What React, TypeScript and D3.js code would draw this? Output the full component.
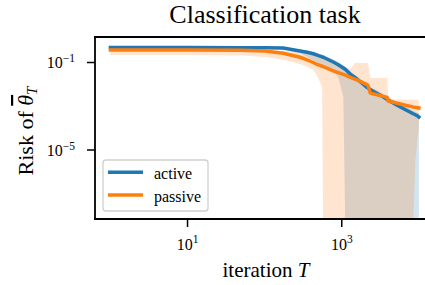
import React from "react";
import * as d3 from "d3";

// iteration grid (x)
const iterations = [1, 10, 50, 100, 174, 288, 355, 427, 479, 556, 575, 776, 900, 1047, 1117, 1288, 1480, 1738, 2089, 2188, 2344, 2455, 3467, 3890, 4000, 5754, 8318, 9000, 9772, 10000];

// active: mean risk and band
const activeMean = [0.479, 0.479, 0.473, 0.468, 0.457, 0.339, 0.295, 0.251, 0.219, 0.182, 0.174, 0.105, 0.0794, 0.0562, 0.0479, 0.0295, 0.0209, 0.0132, 0.00759, 0.00676, 0.00575, 0.00525, 0.00263, 0.00204, 0.00191, 0.000933, 0.000468, 0.000407, 0.000347, 0.000324];
const activeHigh = [0.501, 0.501, 0.501, 0.495, 0.49, 0.398, 0.355, 0.309, 0.275, 0.234, 0.224, 0.138, 0.105, 0.0759, 0.0646, 0.0398, 0.0282, 0.0178, 0.0105, 0.00933, 0.00794, 0.00724, 0.00363, 0.00282, 0.00263, 0.00132, 0.000661, 0.000575, 0.00049, 0.000457];
const activeLow = [0.457, 0.457, 0.452, 0.442, 0.427, 0.269, 0.178, 0.126, 0.1, 0.0708, 0.0631, 0.0355, 0.0219, 0.00263, 0, 0, 0, 0, 0, 0, 0, 0, 0, 0, 0, 0, 0, 0, 0, 0];

// passive: mean risk and band
const passiveMean = [0.372, 0.372, 0.363, 0.339, 0.263, 0.174, 0.132, 0.1, 0.0813, 0.0676, 0.0646, 0.0417, 0.0347, 0.0288, 0.0263, 0.0209, 0.0174, 0.0138, 0.01, 0.00891, 0.00407, 0.0038, 0.00282, 0.00251, 0.00174, 0.00126, 0.000933, 0.000891, 0.000851, 0.000832];
const passiveHigh = [0.417, 0.417, 0.407, 0.38, 0.331, 0.316, 0.282, 0.24, 0.209, 0.178, 0.17, 0.112, 0.0891, 0.0708, 0.0631, 0.0501, 0.0955, 0.0955, 0.0955, 0.0955, 0.0195, 0.0195, 0.0195, 0.0195, 0.00204, 0.00204, 0.00204, 0.00204, 0.00191, 0.00141];
const passiveLow = [0.219, 0.219, 0.209, 0.178, 0.132, 0.0851, 0.0631, 0.0457, 0.0251, 0.00759, 0, 0, 0, 0, 0, 0, 0, 0, 0, 0, 0, 0, 0, 0, 0, 0, 0, 3.16e-6, 6.76e-5, 7.41e-5];

const seriesNames = ["active", "passive"];
const xTicks = [10, 1000];
const xTickExp = ["1", "3"];
const yTicks = [0.1, 1e-5];
const yTickExp = ["\u22121", "\u22125"];

const COLORS = ["#1f77b4", "#ff7f0e"];
const FONT = "'Liberation Serif', 'Times New Roman', serif";

export default function App() {
  const W = 425, H = 285;
  const left = 95, right = 434.3, top = 37, bottom = 219;
  const x = d3.scaleLog().domain([Math.pow(10, -0.2), Math.pow(10, 4.2)]).range([left, right]);
  const y = d3.scaleLog().domain([Math.pow(10, -8.154), Math.pow(10, 0.166)]).range([bottom, top]);

  const series = [
    { mean: activeMean, lo: activeLow, hi: activeHigh },
    { mean: passiveMean, lo: passiveLow, hi: passiveHigh },
  ];

  const idx = iterations.map((_, i) => i);
  const area = (lo: number[], hi: number[]) =>
    d3.area<number>()
      .x((i) => x(iterations[i]))
      .y0((i) => (lo[i] > 0 ? y(lo[i]) : bottom + 20))
      .y1((i) => y(hi[i]))(idx) || "";
  const line = (m: number[]) =>
    d3.line<number>().x((i) => x(iterations[i])).y((i) => y(m[i]))(idx) || "";

  return (
    <svg width={W} height={H} style={{ position: "absolute", left: 0, top: 0, background: "#fff" }} fontFamily={FONT}>
      <defs>
        <clipPath id="plotclip">
          <rect x={left} y={top} width={right - left} height={bottom - top} />
        </clipPath>
      </defs>
      <g clipPath="url(#plotclip)">
        {series.map((s, k) => (
          <path key={"f" + k} d={area(s.lo, s.hi)} fill={COLORS[k]} fillOpacity={0.2} stroke="none" />
        ))}
        {series.map((s, k) => (
          <path key={"l" + k} d={line(s.mean)} fill="none" stroke={COLORS[k]} strokeWidth={3.5} strokeLinecap="square" strokeLinejoin="round" />
        ))}
      </g>
      {/* spines */}
      <line x1={left} x2={left} y1={top - 1} y2={bottom + 1} stroke="#000" strokeWidth={1.8} />
      <line x1={left - 1} x2={W} y1={bottom} y2={bottom} stroke="#000" strokeWidth={1.8} />
      <line x1={left - 1} x2={W} y1={top} y2={top} stroke="#000" strokeWidth={1.8} />
      {/* x ticks */}
      {xTicks.map((t, i) => (
        <g key={"xt" + i}>
          <line x1={x(t)} x2={x(t)} y1={bottom} y2={bottom + 8} stroke="#000" strokeWidth={1.5} />
          <text x={x(t)} y={250} textAnchor="middle" fontSize={16} fill="#000">
            10<tspan dy={-7} fontSize={11.5}>{xTickExp[i]}</tspan>
          </text>
        </g>
      ))}
      {/* y ticks */}
      {yTicks.map((t, i) => (
        <g key={"yt" + i}>
          <line x1={left - 8} x2={left} y1={y(t)} y2={y(t)} stroke="#000" strokeWidth={1.5} />
          <text x={75} y={y(t) + 5.5} textAnchor="end" fontSize={16} fill="#000">
            10<tspan dy={-6} fontSize={11.5}>{yTickExp[i]}</tspan>
          </text>
        </g>
      ))}
      {/* title */}
      <text x={265} y={22.5} textAnchor="middle" fontSize={26} fill="#000">Classification task</text>
      {/* x label */}
      <text x={266} y={277} textAnchor="middle" fontSize={21} fill="#000">
        iteration <tspan fontStyle="italic">T</tspan>
      </text>
      {/* y label */}
      <text transform="translate(33,131) rotate(-90)" textAnchor="middle" fontSize={22} fill="#000">
        Risk of <tspan fontStyle="italic" style={{ textDecoration: "overline" }}>{"\u03b8"}</tspan>
        <tspan fontStyle="italic" fontSize={15} dy={4}>T</tspan>
      </text>
      {/* legend */}
      <rect x={103} y={160} width={105} height={51} rx={3} fill="#fff" fillOpacity={0.8} stroke="#d0d0d0" strokeWidth={1.3} />
      {seriesNames.map((n, k) => (
        <g key={"lg" + k}>
          <line x1={108} x2={143} y1={172.3 + k * 22.7} y2={172.3 + k * 22.7} stroke={COLORS[k]} strokeWidth={3.5} />
          <text x={154} y={178.5 + k * 23} fontSize={16} fill="#000">{n}</text>
        </g>
      ))}
    </svg>
  );
}
